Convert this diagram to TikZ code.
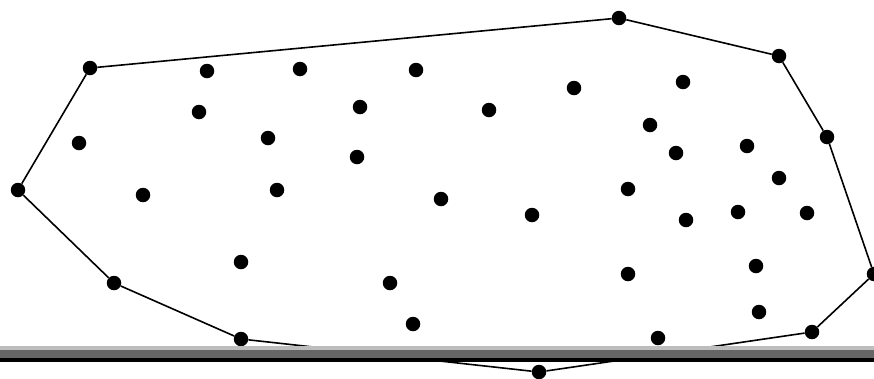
\documentclass[tikz,border=0pt]{standalone}
\usepackage{tikz}

\begin{document}
\begin{tikzpicture}[
x=1pt,y=-1pt,
dot/.style={circle,fill=black,inner sep=0pt,minimum size=14.5pt},
hull/.style={line width=1.6pt}
]
\useasboundingbox (0,0) rectangle (874,378);

% points on the hull
\node[dot] (h1) at (90,68) {};
\node[dot] (h2) at (619,18) {};
\node[dot] (h3) at (779,56) {};
\node[dot] (h4) at (827,137) {};
\node[dot] (h5) at (874,274) {};
\node[dot] (h6) at (812,332) {};
\node[dot] (h7) at (539,372) {};
\node[dot] (h8) at (241,339) {};
\node[dot] (h9) at (114,283) {};
\node[dot] (h10) at (18,190) {};

% points inside
\node[dot] (p1) at (207,71) {};
\node[dot] (p2) at (300,69) {};
\node[dot] (p3) at (416,70) {};
\node[dot] (p4) at (199,112) {};
\node[dot] (p5) at (360,107) {};
\node[dot] (p6) at (489,110) {};
\node[dot] (p7) at (574,88) {};
\node[dot] (p8) at (683,82) {};
\node[dot] (p9) at (79,143) {};
\node[dot] (p10) at (268,138) {};
\node[dot] (p11) at (357,157) {};
\node[dot] (p12) at (650,125) {};
\node[dot] (p13) at (676,153) {};
\node[dot] (p14) at (747,146) {};
\node[dot] (p15) at (779,178) {};
\node[dot] (p16) at (143,195) {};
\node[dot] (p17) at (277,190) {};
\node[dot] (p18) at (441,199) {};
\node[dot] (p19) at (532,215) {};
\node[dot] (p20) at (628,189) {};
\node[dot] (p21) at (686,220) {};
\node[dot] (p22) at (738,212) {};
\node[dot] (p23) at (807,213) {};
\node[dot] (p24) at (241,262) {};
\node[dot] (p25) at (390,283) {};
\node[dot] (p26) at (628,274) {};
\node[dot] (p27) at (756,266) {};
\node[dot] (p28) at (413,324) {};
\node[dot] (p29) at (759,312) {};
\node[dot] (p30) at (658,338) {};

\draw[hull] (h1) -- (h2);
\draw[hull] (h2) -- (h3);
\draw[hull] (h3) -- (h4);
\draw[hull] (h4) -- (h5);
\draw[hull] (h5) -- (h6);
\draw[hull] (h6) -- (h7);
\draw[hull] (h7) -- (h8);
\draw[hull] (h8) -- (h9);
\draw[hull] (h9) -- (h10);
\draw[hull] (h10) -- (h1);

% the bar
\fill[black!26] (0,346) rectangle (874,350);
\fill[black!60] (0,350) rectangle (874,358);
\fill[black] (0,358) rectangle (874,362);

\end{tikzpicture}
\end{document}
